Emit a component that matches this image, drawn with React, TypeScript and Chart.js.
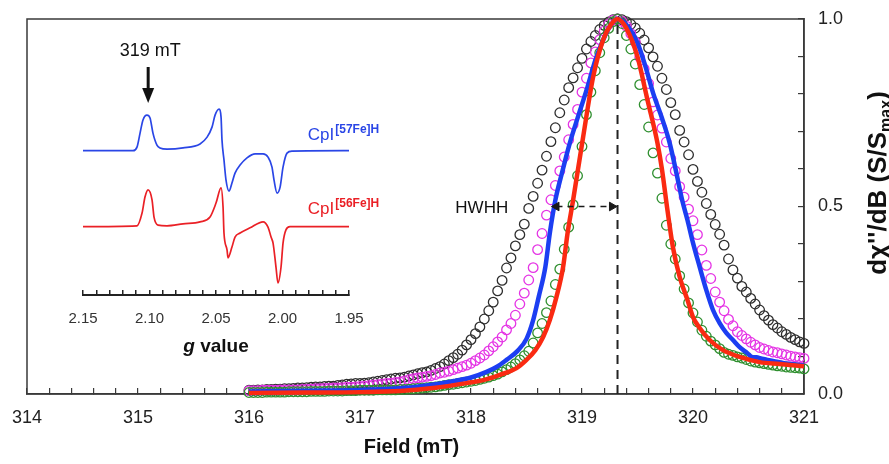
import React, { useEffect, useRef } from 'react';
import { Chart, registerables } from 'chart.js';

Chart.register(...registerables);

const FONT = '"Liberation Sans", Arial, Helvetica, sans-serif';

// ---------------- main panel data (Field in mT, normalised dχ''/dB) ----------------
const fieldGrid = [
  316.00, 316.04, 316.08, 316.12, 316.16, 316.20, 316.24, 316.28, 316.32, 316.36,
  316.40, 316.44, 316.48, 316.52, 316.56, 316.60, 316.64, 316.68, 316.72, 316.76,
  316.80, 316.84, 316.88, 316.92, 316.96, 317.00, 317.04, 317.08, 317.12, 317.16,
  317.20, 317.24, 317.28, 317.32, 317.36, 317.40, 317.44, 317.48, 317.52, 317.56,
  317.60, 317.64, 317.68, 317.72, 317.76, 317.80, 317.84, 317.88, 317.92, 317.96,
  318.00, 318.04, 318.08, 318.12, 318.16, 318.20, 318.24, 318.28, 318.32, 318.36,
  318.40, 318.44, 318.48, 318.52, 318.56, 318.60, 318.64, 318.68, 318.72, 318.76,
  318.80, 318.84, 318.88, 318.92, 318.96, 319.00, 319.04, 319.08, 319.12, 319.16,
  319.20, 319.24, 319.28, 319.32, 319.36, 319.40, 319.44, 319.48, 319.52, 319.56,
  319.60, 319.64, 319.68, 319.72, 319.76, 319.80, 319.84, 319.88, 319.92, 319.96,
  320.00, 320.04, 320.08, 320.12, 320.16, 320.20, 320.24, 320.28, 320.32, 320.36,
  320.40, 320.44, 320.48, 320.52, 320.56, 320.60, 320.64, 320.68, 320.72, 320.76,
  320.80, 320.84, 320.88, 320.92, 320.96, 321.00,
];

const blackSeries = [
  0.010, 0.010, 0.011, 0.011, 0.012, 0.012, 0.013, 0.013, 0.014, 0.014,
  0.015, 0.016, 0.016, 0.017, 0.018, 0.019, 0.019, 0.020, 0.021, 0.021,
  0.023, 0.024, 0.026, 0.027, 0.028, 0.028, 0.029, 0.030, 0.032, 0.034,
  0.036, 0.038, 0.040, 0.042, 0.043, 0.045, 0.048, 0.051, 0.054, 0.057,
  0.059, 0.063, 0.068, 0.073, 0.080, 0.089, 0.097, 0.106, 0.117, 0.131,
  0.145, 0.161, 0.179, 0.200, 0.222, 0.245, 0.275, 0.303, 0.336, 0.363,
  0.395, 0.425, 0.453, 0.495, 0.527, 0.562, 0.597, 0.634, 0.673, 0.710,
  0.750, 0.784, 0.817, 0.843, 0.870, 0.895, 0.920, 0.940, 0.956, 0.972,
  0.983, 0.992, 0.998, 1.000, 0.998, 0.993, 0.986, 0.976, 0.962, 0.944,
  0.923, 0.899, 0.874, 0.842, 0.812, 0.777, 0.745, 0.703, 0.672, 0.638,
  0.599, 0.567, 0.538, 0.508, 0.479, 0.452, 0.426, 0.397, 0.360, 0.331,
  0.309, 0.287, 0.272, 0.255, 0.240, 0.224, 0.209, 0.197, 0.185, 0.176,
  0.166, 0.159, 0.151, 0.145, 0.139, 0.135,
];

const magentaSeries = [
  0.009, 0.009, 0.009, 0.010, 0.010, 0.010, 0.010, 0.011, 0.011, 0.011,
  0.011, 0.011, 0.012, 0.012, 0.013, 0.014, 0.014, 0.015, 0.015, 0.016,
  0.016, 0.017, 0.018, 0.018, 0.019, 0.020, 0.021, 0.022, 0.024, 0.025,
  0.027, 0.028, 0.029, 0.031, 0.032, 0.035, 0.038, 0.041, 0.043, 0.045,
  0.047, 0.049, 0.052, 0.056, 0.058, 0.061, 0.065, 0.069, 0.073, 0.077,
  0.082, 0.089, 0.096, 0.104, 0.115, 0.126, 0.139, 0.152, 0.171, 0.188,
  0.210, 0.240, 0.269, 0.304, 0.337, 0.385, 0.428, 0.477, 0.518, 0.556,
  0.595, 0.632, 0.678, 0.719, 0.759, 0.805, 0.842, 0.883, 0.912, 0.945,
  0.968, 0.986, 0.997, 1.000, 0.994, 0.981, 0.961, 0.939, 0.898, 0.867,
  0.828, 0.779, 0.744, 0.709, 0.672, 0.628, 0.595, 0.553, 0.525, 0.493,
  0.462, 0.425, 0.384, 0.343, 0.308, 0.272, 0.245, 0.222, 0.199, 0.182,
  0.166, 0.156, 0.147, 0.138, 0.131, 0.124, 0.120, 0.116, 0.112, 0.110,
  0.107, 0.104, 0.101, 0.099, 0.097, 0.095,
];

const greenSeries = [
  0.004, 0.004, 0.004, 0.004, 0.005, 0.005, 0.005, 0.005, 0.005, 0.006,
  0.006, 0.006, 0.006, 0.006, 0.007, 0.007, 0.007, 0.007, 0.008, 0.008,
  0.008, 0.008, 0.009, 0.009, 0.009, 0.010, 0.010, 0.010, 0.010, 0.011,
  0.011, 0.011, 0.011, 0.011, 0.012, 0.012, 0.013, 0.014, 0.015, 0.016,
  0.017, 0.018, 0.019, 0.021, 0.023, 0.025, 0.026, 0.028, 0.030, 0.032,
  0.034, 0.036, 0.039, 0.042, 0.045, 0.049, 0.053, 0.059, 0.065, 0.072,
  0.081, 0.091, 0.102, 0.114, 0.136, 0.163, 0.188, 0.217, 0.248, 0.292,
  0.333, 0.386, 0.445, 0.505, 0.582, 0.660, 0.745, 0.805, 0.862, 0.910,
  0.950, 0.975, 0.993, 1.000, 0.988, 0.956, 0.920, 0.880, 0.825, 0.772,
  0.712, 0.643, 0.589, 0.522, 0.450, 0.400, 0.360, 0.315, 0.280, 0.243,
  0.216, 0.192, 0.170, 0.154, 0.141, 0.131, 0.121, 0.111, 0.106, 0.103,
  0.099, 0.096, 0.092, 0.088, 0.085, 0.083, 0.081, 0.079, 0.077, 0.075,
  0.074, 0.072, 0.071, 0.070, 0.069, 0.067,
];

const blueField = [
  316.0, 316.5, 317.0, 317.5, 317.8, 318.0, 318.14, 318.23, 318.32, 318.42,
  318.5, 318.56, 318.61, 318.67, 318.71, 318.76, 318.82, 318.89, 318.97, 319.05,
  319.12, 319.19, 319.26, 319.32, 319.4, 319.5, 319.57, 319.64, 319.72, 319.79,
  319.85, 319.9, 319.95, 320.0, 320.06, 320.12, 320.18, 320.24, 320.3, 320.36,
  320.42, 320.49, 320.53, 320.57, 320.62, 320.67, 320.81, 321.0,
];
const blueValues = [
  0.007, 0.009, 0.011, 0.019, 0.032, 0.044, 0.059, 0.072, 0.091, 0.115,
  0.147, 0.197, 0.259, 0.339, 0.429, 0.517, 0.590, 0.669, 0.745, 0.819,
  0.890, 0.944, 0.985, 1.000, 0.985, 0.936, 0.875, 0.803, 0.736, 0.669,
  0.590, 0.520, 0.464, 0.403, 0.339, 0.277, 0.224, 0.189, 0.163, 0.144,
  0.125, 0.109, 0.099, 0.098, 0.094, 0.091, 0.083, 0.076,
];

const redField = [
  316.0, 316.5, 317.0, 317.36, 317.66, 317.96, 318.11, 318.26, 318.41, 318.5,
  318.58, 318.65, 318.71, 318.77, 318.83, 318.87, 318.92, 319.01, 319.1, 319.19,
  319.26, 319.32, 319.4, 319.5, 319.59, 319.68, 319.72, 319.77, 319.82, 319.88,
  319.95, 320.0, 320.06, 320.15, 320.27, 320.42, 320.6, 320.78, 321.0,
];
const redValues = [
  0.003, 0.004, 0.005, 0.008, 0.016, 0.029, 0.037, 0.051, 0.069, 0.091,
  0.117, 0.152, 0.197, 0.259, 0.339, 0.429, 0.517, 0.685, 0.845, 0.944,
  0.985, 1.000, 0.975, 0.899, 0.784, 0.669, 0.600, 0.490, 0.390, 0.312,
  0.251, 0.205, 0.176, 0.144, 0.117, 0.099, 0.085, 0.080, 0.074,
];

// peak marker and half-width arrow
const peakLineField = [319.32, 319.32];
const peakLineLevel = [0, 0.995];
const hwhhField = [318.77, 319.27];
const hwhhLevel = [0.5, 0.5];
const hwhhText = 'HWHH';
const hwhhTextField = 318.335;

const xTitle = 'Field (mT)';
const yTitleMain = "dχ''/dB (S/S";
const yTitleSub = 'max';
const yTitleEnd = ')';

// ---------------- inset data (g value, relative derivative intensity) ----------------
const blueG = [
  2.150, 2.1124, 2.1094, 2.1071, 2.1049, 2.1019, 2.0996, 2.0974, 2.0944, 2.0921,
  2.0868, 2.0748, 2.0620, 2.0567, 2.0530, 2.0507, 2.0477, 2.0462, 2.0455, 2.0440,
  2.0425, 2.0402, 2.0380, 2.0357, 2.0319, 2.0267, 2.0206, 2.0146, 2.0109, 2.0079,
  2.0064, 2.0041, 2.0018, 1.9996, 1.9966, 1.9928, 1.950,
];
const blueI = [
  0, 0, 0.09, 0.44, 0.77, 0.89, 0.82, 0.44, 0.14, 0.07,
  0.04, 0.07, 0.17, 0.34, 0.59, 0.89, 1.04, 0.84, 0.27, -0.23,
  -0.73, -1.01, -0.81, -0.56, -0.36, -0.18, -0.08, -0.08, -0.16, -0.41,
  -0.73, -1.06, -0.91, -0.41, -0.06, -0.01, 0,
];
const redG = [
  2.150, 2.1094, 2.1056, 2.1034, 2.1011, 2.0981, 2.0966, 2.0936, 2.0868, 2.0748,
  2.0620, 2.0545, 2.0500, 2.0462, 2.0447, 2.0440, 2.0417, 2.0410, 2.0380, 2.0357,
  2.0319, 2.0244, 2.0146, 2.0109, 2.0086, 2.0071, 2.0049, 2.0034, 2.0011, 1.9996,
  1.9974, 1.9944, 1.950,
];
const redI = [
  0, 0.02, 0.34, 0.74, 0.92, 0.67, 0.24, 0.04, 0.02, 0.07,
  0.12, 0.24, 0.59, 0.97, 0.49, -0.16, -0.58, -0.78, -0.51, -0.26,
  -0.16, -0.03, 0.12, -0.01, -0.26, -0.41, -1.01, -1.41, -1.01, -0.41,
  -0.08, 0.0, 0,
];
const blueOffset = 1.9;
const redOffset = 0;
const seriesLabels = ['CpI', 'CpI'];
const seriesSup = ['[57Fe]H', '[56Fe]H'];
const labelG = 1.981;
const labelLevels = [2.17, 0.32];
const markerText = '319 mT';
const markerG = 2.101;
const insetTitleItalic = 'g';
const insetTitleRest = ' value';

// ---------------- colours ----------------
const AXIS = '#3a3a3a';
const C_BLACK = '#2e2e2e';
const C_MAGENTA = '#e534e5';
const C_GREEN = '#2f8f2f';
const C_BLUE = '#1c3ef2';
const C_RED = '#fa2a12';
const IN_BLUE = '#2a46e6';
const IN_RED = '#ea2026';

const toXY = (xs: number[], ys: number[], off = 0) => xs.map((x, i) => ({ x, y: ys[i] + off }));

const noPad = (s: any) => {
  s.paddingTop = 0;
  s.paddingBottom = 0;
  s.paddingLeft = 0;
  s.paddingRight = 0;
};

const circleSet = (label: string, ys: number[], color: string) => ({
  label,
  data: toXY(fieldGrid, ys),
  showLine: false,
  pointStyle: 'circle',
  pointRadius: 4.8,
  pointBorderWidth: 1.3,
  pointBorderColor: color,
  pointBackgroundColor: 'rgba(0,0,0,0)',
  borderColor: color,
  clip: false,
});

const lineSet = (label: string, xs: number[], ys: number[], color: string) => ({
  label,
  data: toXY(xs, ys),
  showLine: true,
  borderColor: color,
  borderWidth: 4.5,
  pointRadius: 0,
  cubicInterpolationMode: 'monotone',
  clip: false,
});

const mainDecor = {
  id: 'mainDecor',
  beforeDatasetsDraw(chart: any) {
    const { ctx, chartArea: a } = chart;
    ctx.save();
    ctx.strokeStyle = AXIS;
    ctx.lineWidth = 1.5;
    ctx.strokeRect(a.left, a.top, a.right - a.left, a.bottom - a.top);
    ctx.restore();
  },
  afterDraw(chart: any) {
    const { ctx, chartArea: a } = chart;
    const xs = chart.scales.x;
    const ys = chart.scales.y;
    ctx.save();
    ctx.fillStyle = '#111';
    ctx.font = `17px ${FONT}`;
    ctx.textAlign = 'right';
    ctx.textBaseline = 'middle';
    ctx.fillText(hwhhText, xs.getPixelForValue(hwhhTextField), ys.getPixelForValue(0.5) + 2);

    ctx.font = `bold 20px ${FONT}`;
    ctx.textAlign = 'center';
    ctx.textBaseline = 'middle';
    ctx.fillText(xTitle, (a.left + a.right) / 2 - 4, 447);

    // rotated y title with subscript
    ctx.translate(877, 183);
    ctx.rotate(-Math.PI / 2);
    ctx.textAlign = 'left';
    ctx.textBaseline = 'alphabetic';
    const big = `bold 26px ${FONT}`;
    const small = `bold 16px ${FONT}`;
    ctx.font = big;
    const w1 = ctx.measureText(yTitleMain).width;
    const w3 = ctx.measureText(yTitleEnd).width;
    ctx.font = small;
    const w2 = ctx.measureText(yTitleSub).width;
    let sx = -(w1 + w2 + w3) / 2;
    const base = 9;
    ctx.font = big;
    ctx.fillText(yTitleMain, sx, base);
    sx += w1;
    ctx.font = small;
    ctx.fillText(yTitleSub, sx, base + 5);
    sx += w2;
    ctx.font = big;
    ctx.fillText(yTitleEnd, sx, base);
    ctx.restore();
  },
};

const insetDecor = {
  id: 'insetDecor',
  afterDraw(chart: any) {
    const { ctx, chartArea: a } = chart;
    const xs = chart.scales.x;
    const ys = chart.scales.y;
    ctx.save();
    // marker text and arrow
    const mx = xs.getPixelForValue(markerG);
    ctx.fillStyle = '#111';
    ctx.font = `18px ${FONT}`;
    ctx.textAlign = 'center';
    ctx.textBaseline = 'alphabetic';
    ctx.fillText(markerText, mx + 2, 26);
    ctx.strokeStyle = '#111';
    ctx.lineWidth = 3;
    ctx.beginPath();
    ctx.moveTo(mx, 37);
    ctx.lineTo(mx, 62);
    ctx.stroke();
    ctx.beginPath();
    ctx.moveTo(mx - 6, 58);
    ctx.lineTo(mx + 6, 58);
    ctx.lineTo(mx, 73);
    ctx.closePath();
    ctx.fill();

    // series labels with superscripts
    const cols = [IN_BLUE, IN_RED];
    for (let i = 0; i < 2; i++) {
      const lx = xs.getPixelForValue(labelG);
      const ly = ys.getPixelForValue(labelLevels[i]);
      ctx.fillStyle = cols[i];
      ctx.textAlign = 'left';
      ctx.font = `17px ${FONT}`;
      ctx.fillText(seriesLabels[i], lx, ly);
      const w = ctx.measureText(seriesLabels[i]).width;
      ctx.font = `bold 12px ${FONT}`;
      ctx.fillText(seriesSup[i], lx + w + 1, ly - 7);
    }

    // axis title "g value"
    ctx.fillStyle = '#111';
    const it = `italic bold 19px ${FONT}`;
    const bd = `bold 19px ${FONT}`;
    ctx.font = it;
    const wa = ctx.measureText(insetTitleItalic).width;
    ctx.font = bd;
    const wb = ctx.measureText(insetTitleRest).width;
    const cx = (a.left + a.right) / 2;
    let tx = cx - (wa + wb) / 2;
    ctx.textBaseline = 'middle';
    ctx.font = it;
    ctx.fillText(insetTitleItalic, tx, 317);
    tx += wa;
    ctx.font = bd;
    ctx.fillText(insetTitleRest, tx, 317);
    ctx.restore();
  },
};

export default function App() {
  const mainRef = useRef<HTMLCanvasElement>(null);
  const insetRef = useRef<HTMLCanvasElement>(null);

  useEffect(() => {
    const main = new Chart(mainRef.current as HTMLCanvasElement, {
      type: 'scatter',
      data: {
        datasets: [
          {
            label: 'hwhh',
            data: toXY(hwhhField, hwhhLevel),
            showLine: true,
            borderColor: '#1a1a1a',
            borderWidth: 1.5,
            borderDash: [6, 5],
            pointStyle: 'triangle',
            pointRadius: 5,
            pointRotation: [270, 90],
            pointBackgroundColor: '#1a1a1a',
            pointBorderColor: '#1a1a1a',
            pointBorderWidth: 1,
          },
          {
            label: 'peak',
            data: toXY(peakLineField, peakLineLevel),
            showLine: true,
            borderColor: '#222',
            borderWidth: 2,
            borderDash: [9, 6],
            pointRadius: 0,
          },
          lineSet('red', redField, redValues, C_RED),
          lineSet('blue', blueField, blueValues, C_BLUE),
          circleSet('green', greenSeries, C_GREEN),
          circleSet('magenta', magentaSeries, C_MAGENTA),
          circleSet('black', blackSeries, C_BLACK),
        ] as any,
      },
      options: {
        animation: false,
        responsive: false,
        events: [],
        plugins: { legend: { display: false }, tooltip: { enabled: false } },
        layout: { padding: { left: 27, top: 19, right: 0, bottom: 0 } },
        scales: {
          x: {
            type: 'linear',
            position: 'bottom',
            min: 314,
            max: 321,
            afterFit: (s: any) => { s.height = 70; noPad(s); },
            border: { display: true, color: AXIS, width: 1.5 },
            grid: { display: true, drawOnChartArea: false, drawTicks: true, tickLength: -6, color: AXIS, lineWidth: 1.2 },
            ticks: {
              stepSize: 0.2,
              autoSkip: false,
              maxRotation: 0,
              maxTicksLimit: 100,
              padding: 19,
              color: '#222',
              font: { family: FONT, size: 18 },
              callback: (v: any) => {
                const n = Number(v);
                return Math.abs(n - Math.round(n)) < 1e-6 ? String(Math.round(n)) : '';
              },
            },
          },
          y: {
            type: 'linear',
            position: 'right',
            min: 0,
            max: 1,
            afterFit: (s: any) => { s.width = 85; noPad(s); },
            border: { display: true, color: AXIS, width: 1.5 },
            grid: { display: true, drawOnChartArea: false, drawTicks: true, tickLength: -6, color: AXIS, lineWidth: 1.2 },
            ticks: {
              stepSize: 0.1,
              autoSkip: false,
              maxTicksLimit: 100,
              padding: 20,
              color: '#222',
              font: { family: FONT, size: 18 },
              callback: (v: any) => {
                const k = Math.round(Number(v) * 10);
                return k % 5 === 0 ? (k / 10).toFixed(1) : '';
              },
            },
          },
        },
      } as any,
      plugins: [mainDecor],
    });

    const inset = new Chart(insetRef.current as HTMLCanvasElement, {
      type: 'scatter',
      data: {
        datasets: [
          {
            label: 'CpI57',
            data: toXY(blueG, blueI, blueOffset),
            showLine: true,
            borderColor: IN_BLUE,
            borderWidth: 1.7,
            pointRadius: 0,
            cubicInterpolationMode: 'monotone',
          },
          {
            label: 'CpI56',
            data: toXY(redG, redI, redOffset),
            showLine: true,
            borderColor: IN_RED,
            borderWidth: 1.7,
            pointRadius: 0,
            cubicInterpolationMode: 'monotone',
          },
        ] as any,
      },
      options: {
        animation: false,
        responsive: false,
        events: [],
        plugins: { legend: { display: false }, tooltip: { enabled: false } },
        layout: { padding: { left: 43, right: 41, top: 10, bottom: 0 } },
        scales: {
          x: {
            type: 'linear',
            position: 'bottom',
            reverse: true,
            min: 1.95,
            max: 2.15,
            afterFit: (s: any) => { s.height = 75; noPad(s); },
            border: { display: true, color: '#222', width: 2 },
            grid: { display: true, drawOnChartArea: false, drawTicks: true, tickLength: -5, color: '#222', lineWidth: 1.5 },
            ticks: {
              stepSize: 0.01,
              autoSkip: false,
              maxRotation: 0,
              maxTicksLimit: 100,
              padding: 20,
              color: '#333',
              font: { family: FONT, size: 15 },
              callback: (v: any) => {
                const k = Math.round(Number(v) * 100);
                return k % 5 === 0 ? (k / 100).toFixed(2) : '';
              },
            },
          },
          y: { type: 'linear', display: false, min: -1.71, max: 4.67 },
        },
      } as any,
      plugins: [insetDecor],
    });

    return () => {
      main.destroy();
      inset.destroy();
    };
  }, []);

  return (
    <div style={{ position: 'fixed', left: 0, top: 0, width: 889, height: 464, background: '#fff' }}>
      <canvas
        ref={mainRef}
        width={889}
        height={464}
        style={{ position: 'absolute', left: 0, top: 0, width: 889, height: 464 }}
      />
      <canvas
        ref={insetRef}
        width={350}
        height={340}
        style={{ position: 'absolute', left: 40, top: 30, width: 350, height: 340 }}
      />
    </div>
  );
}
